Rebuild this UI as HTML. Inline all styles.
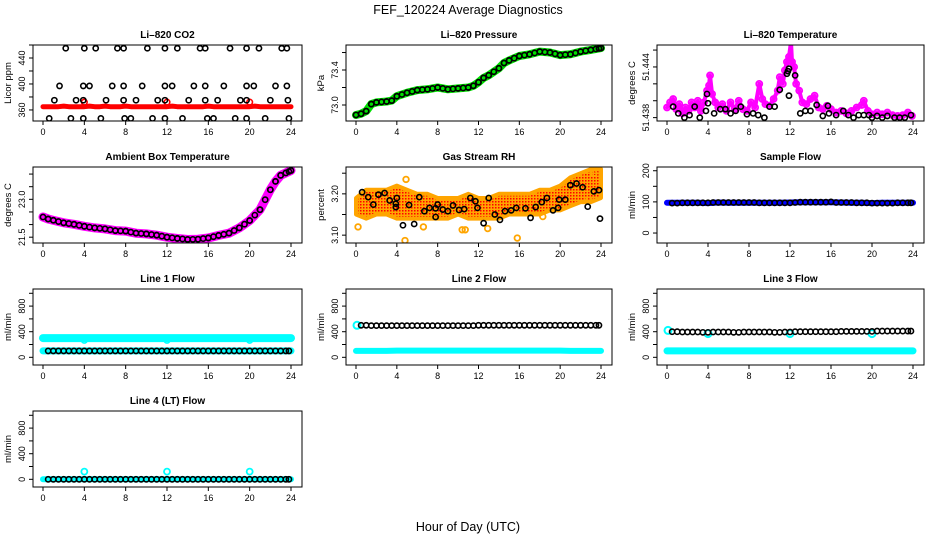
<!DOCTYPE html>
<html><head><meta charset="utf-8">
<style>
html,body{margin:0;padding:0;background:#fff;}
svg{display:block;font-family:"Liberation Sans",Arial,sans-serif;}
</style></head>
<body>
<svg id="c" width="936" height="540" viewBox="0 0 936 540" xmlns="http://www.w3.org/2000/svg">
<text x="468" y="14" text-anchor="middle" font-size="12.5">FEF_120224  Average Diagnostics</text>
<text x="468" y="531" text-anchor="middle" font-size="12.5">Hour of Day (UTC)</text>
</svg>
<script>
// ---------- data ----------
const xTicks = [0,4,8,12,16,20,24];
const halfHours = [0.5,1,1.5,2,2.5,3,3.5,4,4.5,5,5.5,6,6.5,7,7.5,8,8.5,9,9.5,10,10.5,11,11.5,12,12.5,13,13.5,14,14.5,15,15.5,16,16.5,17,17.5,18,18.5,19,19.5,20,20.5,21,21.5,22,22.5,23,23.5,23.8];
const hourly = [0,1,2,3,4,5,6,7,8,9,10,11,12,13,14,15,16,17,18,19,20,21,22,23,24];

// CO2
const co2Hours = [2.2,4.0,5.1,7.2,7.8,10.1,11.8,13.0,15.2,15.7,18.1,19.7,20.9,23.1,23.6, 1.6,3.9,4.5,6.7,7.8,9.6,11.8,12.5,14.6,15.7,17.5,19.7,20.4,22.5,23.6, 1.1,3.2,3.9,6.1,7.8,9.0,11.1,11.8,14.1,15.7,16.9,19.1,19.7,22.0,23.7, 0.6,2.7,3.9,5.6,7.9,8.5,10.6,11.8,13.5,15.9,16.5,18.6,19.7,21.5,23.8];
const co2Vals = [455,455,455,455,455,455,455,455,455,455,455,455,455,455,455, 397,397,397,397,397,397,397,397,397,397,397,397,397,397,397, 375,375,375,375,375,375,375,375,375,375,375,375,375,375,375, 347,347,347,347,347,347,347,347,347,347,347,347,347,347,347];
const co2Red = [365,365,365,365,366,365,365,365,365,366,365,365,366,365,365,365,366,365,365,365,365,365,365,365,365,366,365,365,365,365,365,365,366,365,365,365,365,365,365,365,365,366,365,365,365,365,365,365,365];
const co2SpikeHours = [4,12,20];
const co2SpikeVals = [372,372,372];

// Pressure
const presHours = [0,0.5,1,1.5,2,3,3.5,4,5,6,7,8,9,10,11,11.5,12,12.5,13,14,14.5,15,16,17,18,19,20,21,22,23,24];
const presVals = [72.886,72.90,72.93,73.01,73.03,73.04,73.05,73.10,73.14,73.17,73.18,73.20,73.18,73.19,73.20,73.22,73.26,73.31,73.34,73.42,73.48,73.51,73.56,73.58,73.61,73.60,73.57,73.58,73.61,73.63,73.65];

// Li-820 temperature
const tempHours = [0.6,1.1,1.7,2.2,2.7,3.2,3.8,3.9,4.0,4.6,5.2,5.7,6.2,6.7,7.2,7.8,8.4,8.9,9.5,10.0,10.5,11.0,11.7,11.8,11.9,11.9,12.5,13.0,13.5,14.0,14.6,15.2,15.7,15.8,16.5,17.2,17.7,18.2,18.7,19.2,19.7,20.0,20.5,21.0,21.5,22.2,22.7,23.2,23.8];
const tempVals = [51.4393,51.4385,51.4380,51.4383,51.4393,51.4380,51.4388,51.4408,51.4397,51.4385,51.4390,51.4390,51.4385,51.4388,51.4393,51.4384,51.4385,51.4383,51.4380,51.4393,51.4393,51.4413,51.4432,51.4435,51.4438,51.4406,51.4430,51.4385,51.4388,51.4388,51.4395,51.4382,51.4394,51.4385,51.4383,51.4388,51.4383,51.4380,51.4383,51.4383,51.4383,51.4380,51.4382,51.4380,51.4382,51.4380,51.4380,51.4380,51.4383];
const tempMagHours = [0,0.3,0.6,0.9,1.2,1.5,1.8,2.1,2.4,2.7,3.0,3.3,3.6,3.9,4.1,4.2,4.4,4.7,5.0,5.4,5.8,6.2,6.6,7.0,7.4,7.8,8.2,8.6,9.0,9.3,9.6,10.0,10.4,10.8,11.0,11.3,11.5,11.7,11.9,12.1,12.2,12.4,12.6,12.9,13.2,13.6,14.0,14.4,14.8,15.2,15.6,16.0,16.5,17.0,17.5,18.0,18.5,19.0,19.2,19.6,20.0,20.5,21.0,21.5,22.0,22.5,23.0,23.5,23.9];
const tempMagVals = [51.4392,51.4398,51.4402,51.4390,51.4396,51.4385,51.4392,51.4388,51.4398,51.4392,51.4400,51.4388,51.4398,51.4412,51.4418,51.4430,51.4408,51.4398,51.4392,51.4396,51.4388,51.4398,51.4390,51.4400,51.4390,51.4388,51.4398,51.4392,51.4420,51.4402,51.4396,51.4394,51.4402,51.4412,51.4428,51.4420,51.4436,51.4446,51.4452,51.4470,51.4446,51.4440,51.4420,51.4412,51.4398,51.4396,51.4402,51.4406,51.4392,51.4390,51.4394,51.4390,51.4386,51.4388,51.4385,51.4388,51.4392,51.4395,51.4400,51.4388,51.4384,51.4386,51.4384,51.4386,51.4383,51.4382,51.4383,51.4386,51.4382];

// Ambient box temperature
const ambHours = [0,0.5,1,2,3,4,5,6,7,8,9,10,11,12,13,14,15,16,17,18,19,20,21,22,22.5,23,24];
const ambVals = [22.30,22.22,22.17,22.07,22.01,21.93,21.87,21.83,21.76,21.74,21.66,21.63,21.58,21.50,21.45,21.41,21.42,21.47,21.57,21.66,21.87,22.16,22.59,23.38,23.71,23.95,24.14];

// Gas stream RH
const rhHours = [0.6,1.2,1.7,2.2,2.8,3.3,3.9,3.9,4.0,4.6,5.2,5.7,6.2,6.7,7.2,7.8,7.8,8.0,8.5,9.0,9.5,10.1,10.6,11.2,11.7,11.9,12.5,13.0,13.6,14.1,14.6,15.2,15.7,16.6,17.1,17.6,18.2,18.7,19.3,19.8,19.9,20.5,21.0,21.6,22.2,22.7,23.3,23.8,23.9];
const rhVals = [3.204,3.192,3.174,3.198,3.202,3.184,3.176,3.168,3.190,3.124,3.173,3.127,3.192,3.158,3.166,3.165,3.144,3.174,3.162,3.158,3.172,3.161,3.163,3.190,3.182,3.166,3.129,3.190,3.150,3.137,3.158,3.160,3.166,3.165,3.142,3.168,3.180,3.190,3.160,3.166,3.186,3.186,3.221,3.225,3.216,3.169,3.206,3.209,3.140];
const rhUpper = [3.19,3.21,3.21,3.21,3.22,3.21,3.20,3.20,3.19,3.19,3.19,3.20,3.19,3.19,3.20,3.20,3.20,3.20,3.21,3.21,3.22,3.24,3.25,3.26,3.26];
const rhLower = [3.15,3.14,3.15,3.15,3.14,3.14,3.14,3.14,3.14,3.14,3.15,3.14,3.14,3.14,3.14,3.15,3.15,3.15,3.15,3.16,3.16,3.17,3.18,3.18,3.19];
const rhOutH = [0.2,4.8,4.9,6.6,10.4,10.7,12.9,15.8,18.3,22.8,23.3];
const rhOutV = [3.120,3.087,3.235,3.120,3.113,3.113,3.116,3.093,3.145,3.185,3.250];

// Sample flow
const sampleBlue = [97,97,97,97,96,98,97,97,97,97,97,97,98,99,99,99,99,98,97,97,96,97,97,97,97];
const sampleBlack = [96,96,97,97,97,97,97,97,98,98,98,98,98,98,98,98,98,97,97,97,97,97,97,97,98,99,99,99,99,99,99,100,98,98,98,98,97,97,97,96,96,96,96,96,97,97,97,97];

// Line flows
const line1CyanHi = [300,300,300,300,300,300,300,300,300,300,300,300,300,300,300,300,300,300,300,300,300,300,300,300,300];
const line1CyanLo = [100,100,100,100,100,100,100,100,100,100,100,100,100,100,100,100,100,100,100,100,100,100,100,100,100];
const line1Black = [100,100,100,100,100,100,100,100,100,100,100,100,100,100,100,100,100,100,100,100,100,100,100,100,100,100,100,100,100,100,100,100,100,100,100,100,100,100,100,100,100,100,100,100,100,100,100,100];
const line2Cyan = [100,100,100,100,105,105,105,105,105,105,105,105,105,105,105,105,105,105,105,105,105,100,100,100,100];
const line2Black = [500,500,495,495,495,495,495,495,495,495,495,495,495,495,495,495,495,495,495,495,495,495,495,500,500,500,500,500,500,500,500,500,500,500,500,500,500,500,500,500,500,500,500,500,500,500,500,500];
const line3Cyan = [100,100,100,100,100,100,100,100,100,100,100,100,100,100,100,100,100,100,100,100,100,100,100,100,100];
const line3Black = [400,400,395,395,395,395,390,390,395,395,395,395,390,390,395,395,395,395,395,395,390,390,395,395,400,400,400,400,400,400,400,400,400,405,405,405,405,405,405,405,410,410,410,410,410,410,410,410];
const line4Cyan = [0,0,0,0,0,0,0,0,0,0,0,0,0,0,0,0,0,0,0,0,0,0,0,0,0];
const line4SpikeHours = [4,12,20];
const line4SpikeVals = [120,120,120];
const line4Black = [0,0,0,0,0,0,0,0,0,0,0,0,0,0,0,0,0,0,0,0,0,0,0,0,0,0,0,0,0,0,0,0,0,0,0,0,0,0,0,0,0,0,0,0,0,0,0,0];

// ---------- drawing ----------
const svg = document.getElementById('c');
const NS = 'http://www.w3.org/2000/svg';
const LX = [33,346,657], RX = [302,612,924];
function mk(tag, attrs, parent){ const e=document.createElementNS(NS,tag); for(const k in attrs) e.setAttribute(k,attrs[k]); (parent||svg).appendChild(e); return e; }

const panels = [
 {name:'li820-co2', title:'Li\u2013820 CO2', ylab:'Licor ppm', c:0,r:0, ymin:343,ymax:460, ticks:[360,380,400,420,440,460], labels:[360,400,440], fmt:v=>String(v)},
 {name:'li820-pressure', title:'Li\u2013820 Pressure', ylab:'kPa', c:1,r:0, ymin:72.817,ymax:73.686, ticks:[73.0,73.2,73.4,73.6], labels:[73.0,73.4], fmt:v=>v.toFixed(1)},
 {name:'li820-temperature', title:'Li\u2013820 Temperature', ylab:'degrees C', c:2,r:0, ymin:51.4376,ymax:51.4466, ticks:[51.438,51.440,51.442,51.444,51.446], labels:[51.438,51.444], fmt:v=>v.toFixed(3)},
 {name:'ambient-box-temperature', title:'Ambient Box Temperature', ylab:'degrees C', c:0,r:1, ymin:21.27,ymax:24.28, ticks:[21.5,22,22.5,23,23.5,24], labels:[21.5,23.0], fmt:v=>v.toFixed(1)},
 {name:'gas-stream-rh', title:'Gas Stream RH', ylab:'percent', c:1,r:1, ymin:3.081,ymax:3.265, ticks:[3.10,3.15,3.20,3.25], labels:[3.10,3.20], fmt:v=>v.toFixed(2)},
 {name:'sample-flow', title:'Sample Flow', ylab:'ml/min', c:2,r:1, ymin:-32,ymax:212, ticks:[0,50,100,150,200], labels:[0,100,200], fmt:v=>String(v)},
 {name:'line1-flow', title:'Line 1 Flow', ylab:'ml/min', c:0,r:2, ymin:-120,ymax:1067, ticks:[0,200,400,600,800,1000], labels:[0,400,800], fmt:v=>String(v)},
 {name:'line2-flow', title:'Line 2 Flow', ylab:'ml/min', c:1,r:2, ymin:-120,ymax:1067, ticks:[0,200,400,600,800,1000], labels:[0,400,800], fmt:v=>String(v)},
 {name:'line3-flow', title:'Line 3 Flow', ylab:'ml/min', c:2,r:2, ymin:-120,ymax:1067, ticks:[0,200,400,600,800,1000], labels:[0,400,800], fmt:v=>String(v)},
 {name:'line4-flow', title:'Line 4 (LT) Flow', ylab:'ml/min', c:0,r:3, ymin:-120,ymax:1067, ticks:[0,200,400,600,800,1000], labels:[0,400,800], fmt:v=>String(v)}
];

function setup(p){
  const T=45+122*p.r, B=121+122*p.r, L=LX[p.c], R=RX[p.c];
  p.T=T;p.B=B;p.L=L;p.R=R;
  p.x=h=>L+10+h/24*(R-L-21);
  p.y=v=>B-(v-p.ymin)/(p.ymax-p.ymin)*(B-T);
  const g=mk('g',{});
  
  
  p.g=g;
  const clip=mk('clipPath',{id:'clip-'+p.name},g);
  mk('rect',{x:L,y:T,width:R-L,height:B-T},clip);
  p.data=mk('g',{'clip-path':'url(#clip-'+p.name+')'},g);
  
  
  return p;
}
function frame(p){
  const g=p.g;
  const box=mk('rect',{x:p.L,y:p.T,width:p.R-p.L,height:p.B-p.T,fill:'none',stroke:'#000','stroke-width':1},g);
  
  
  const t=mk('text',{x:(p.L+p.R)/2,y:p.T-7,'text-anchor':'middle','font-size':10,'font-weight':'bold'},g);
  t.textContent=p.title;
  
  
  mk('line',{x1:p.x(0),x2:p.x(24),y1:p.B,y2:p.B,stroke:'#000'},g);
  xTicks.forEach(h=>{
    mk('line',{x1:p.x(h),x2:p.x(h),y1:p.B,y2:p.B+4,stroke:'#000'},g);
    const tx=mk('text',{x:p.x(h),y:p.B+14,'text-anchor':'middle','font-size':9},g);
    tx.textContent=h;
    
    
  });
  const yt=p.ticks.filter(v=>v>=p.ymin&&v<=p.ymax);
  mk('line',{x1:p.L,x2:p.L,y1:p.y(yt[0]),y2:p.y(yt[yt.length-1]),stroke:'#000'},g);
  yt.forEach(v=>mk('line',{x1:p.L-4,x2:p.L,y1:p.y(v),y2:p.y(v),stroke:'#000'},g));
  p.labels.forEach(v=>{
    const yy=p.y(v);
    const tx=mk('text',{x:0,y:0,'text-anchor':'middle','font-size':9,transform:'translate('+(p.L-8)+','+yy+') rotate(-90)'},g);
    tx.textContent=p.fmt(v);
    
    
  });
  const yl=mk('text',{x:0,y:0,'text-anchor':'middle','font-size':9.5,transform:'translate('+(p.L-22)+','+((p.T+p.B)/2)+') rotate(-90)'},g);
  yl.textContent=p.ylab;
  
  
}
function line(p,hs,vs,color,w,nm){
  const pts=hs.map((h,i)=>p.x(h).toFixed(1)+','+p.y(vs[i]).toFixed(1)).join(' ');
  const e=mk('polyline',{points:pts,fill:'none',stroke:color,'stroke-width':w,'stroke-linecap':'round','stroke-linejoin':'round'},p.data);
  
  
}
function pts(p,hs,vs,color,r,sw,nm){
  hs.forEach((h,i)=>{
    const e=mk('circle',{cx:p.x(h),cy:p.y(vs[i]),r:r,fill:'none',stroke:color,'stroke-width':sw},p.data);
    
    
  });
}
function interp(H,V,h){let i=H.findIndex(x=>x>=h);if(i<=0)return V[0];const a=H[i-1],b=H[i];return V[i-1]+(V[i]-V[i-1])*(h-a)/(b-a);}
const P={}; panels.forEach(p=>{P[p.name]=setup(p);});
const halfAll=[0,0.5,1,1.5,2,2.5,3,3.5,4,4.5,5,5.5,6,6.5,7,7.5,8,8.5,9,9.5,10,10.5,11,11.5,12,12.5,13,13.5,14,14.5,15,15.5,16,16.5,17,17.5,18,18.5,19,19.5,20,20.5,21,21.5,22,22.5,23,23.5,24];

// CO2
let p=P['li820-co2'];
line(p,halfAll,co2Red,'#f00',5,'co2-raw-line');
pts(p,co2SpikeHours,co2SpikeVals,'#f00',2.8,1.6,'co2-raw-spike');
pts(p,co2Hours,co2Vals,'#000',2.6,1.6,'co2-avg-point');
// Pressure
p=P['li820-pressure'];
line(p,presHours,presVals,'#00e000',8,'pressure-raw-line');
pts(p,presHours,presVals,'#000',2.6,1.6,'pressure-avg-point');
pts(p,halfHours,halfHours.map(h=>interp(presHours,presVals,h)),'#000',2.6,1.6,'pressure-avg-point');
// Temperature
p=P['li820-temperature'];
line(p,tempMagHours,tempMagVals,'#ff00ff',4,'temperature-raw-line');
pts(p,tempMagHours,tempMagVals,'#ff00ff',3,1.8,'temperature-raw-point');
pts(p,tempHours,tempVals,'#000',2.6,1.6,'temperature-avg-point');
// Ambient
p=P['ambient-box-temperature'];
line(p,ambHours,ambVals,'#ff00ff',9,'ambient-raw-line');
pts(p,ambHours,ambVals,'#000',2.6,1.6,'ambient-avg-point');
pts(p,halfHours,halfHours.map(h=>interp(ambHours,ambVals,h)),'#000',2.6,1.6,'ambient-avg-point');
// RH
p=P['gas-stream-rh'];
{
  const defs=mk('defs',{});
  const pat=mk('pattern',{id:'rhpat',width:3,height:3,patternUnits:'userSpaceOnUse'},defs);
  mk('rect',{x:0,y:0,width:3,height:3,fill:'#ffa500'},pat);
  mk('rect',{x:0,y:0,width:1.5,height:1.5,fill:'#f00'},pat);
  const up=hourly.map((h,i)=>p.x(h).toFixed(1)+','+p.y(rhUpper[i]).toFixed(1));
  const lo=hourly.map((h,i)=>p.x(h).toFixed(1)+','+p.y(rhLower[i]).toFixed(1)).reverse();
  const e=mk('polygon',{points:up.concat(lo).join(' '),fill:'url(#rhpat)',stroke:'#ffa500','stroke-width':4,'stroke-linejoin':'round'},p.data);
  
  
}
pts(p,rhOutH,rhOutV,'#ffa500',2.8,1.8,'rh-raw-point');
pts(p,rhHours,rhVals,'#000',2.6,1.6,'rh-avg-point');
// Sample flow
p=P['sample-flow'];
line(p,hourly,sampleBlue,'#0000ff',6,'sample-raw-line');
pts(p,halfHours,sampleBlack,'#000',2.6,1.6,'sample-avg-point');
// Line flows
p=P['line1-flow'];
line(p,hourly,line1CyanHi,'#00ffff',8,'line1-cyan-high');
line(p,hourly,line1CyanLo,'#00ffff',7,'line1-cyan-low');
pts(p,[4,12,20],[270,270,270],'#00ffff',3,1.6,'line1-cyan-dip');
pts(p,halfHours,line1Black,'#000',2.6,1.6,'line1-avg-point');
p=P['line2-flow'];
line(p,hourly,line2Cyan,'#00ffff',6,'line2-cyan');
pts(p,[0.1],[500],'#00ffff',3.5,2,'line2-cyan-start');
pts(p,halfHours,line2Black,'#000',2.6,1.6,'line2-avg-point');
p=P['line3-flow'];
line(p,hourly,line3Cyan,'#00ffff',7,'line3-cyan');
pts(p,[0.1,4,12,20],[420,370,370,370],'#00ffff',3.5,2,'line3-cyan-point');
pts(p,halfHours,line3Black,'#000',2.6,1.6,'line3-avg-point');
p=P['line4-flow'];
line(p,hourly,line4Cyan,'#00ffff',6,'line4-cyan');
pts(p,line4SpikeHours,line4SpikeVals,'#00ffff',3,1.8,'line4-cyan-spike');
pts(p,halfHours,line4Black,'#000',2.6,1.6,'line4-avg-point');

panels.forEach(frame);
</script>
</body></html>
